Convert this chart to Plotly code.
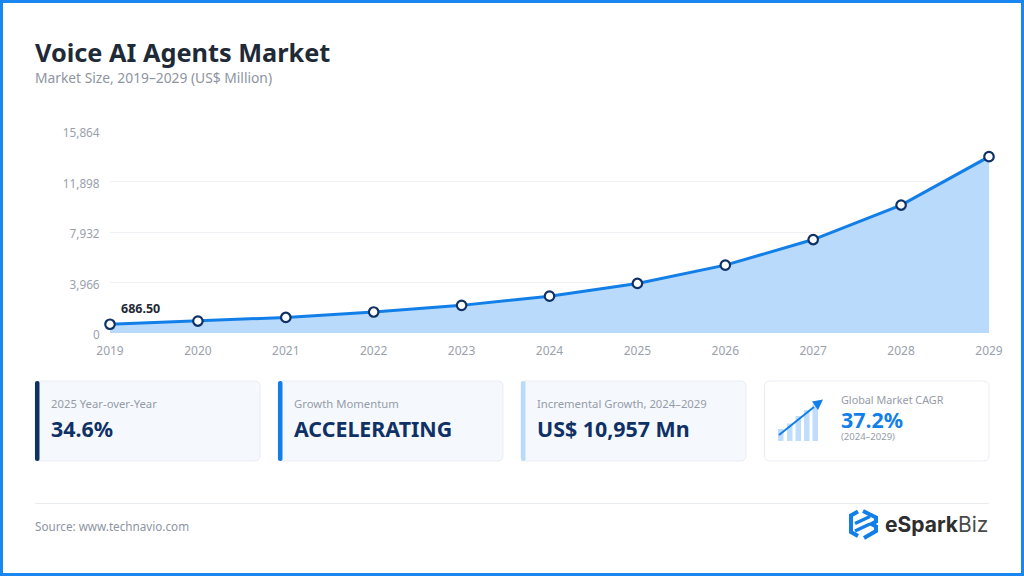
import plotly.graph_objects as go

years = [2019, 2020, 2021, 2022, 2023, 2024, 2025, 2026, 2027, 2028, 2029]
market_size = [686.5, 940, 1220, 1650, 2170, 2890, 3890, 5330, 7340, 10050, 13847]
y_ticks = [0, 3966, 7932, 11898, 15864]
y_tick_labels = ["0", "3,966", "7,932", "11,898", "15,864"]
cards = [
    ("2025 Year-over-Year", "34.6%"),
    ("Growth Momentum", "ACCELERATING"),
    ("Incremental Growth, 2024–2029", "US$ 10,957 Mn"),
]

W, H = 1024, 576
FONT = "Noto Sans"
BLUE = "#127fe8"
LIGHT = "#b9dafb"
NAVY = "#0f3165"


def px(x):
    return x / W


def py(y):
    return 1 - y / H


def P(x, y):
    return f"{px(x):.5f},{py(y):.5f}"


def path(points, close=True):
    s = "M" + " L".join(f"{px(x):.5f},{py(y):.5f}" for x, y in points)
    return s + (" Z" if close else "")


def rrect(x0, y0, x1, y1, r):
    c = r * 0.45
    return (
        f"M{P(x0 + r, y0)} L{P(x1 - r, y0)} C{P(x1 - c, y0)} {P(x1, y0 + c)} {P(x1, y0 + r)} "
        f"L{P(x1, y1 - r)} C{P(x1, y1 - c)} {P(x1 - c, y1)} {P(x1 - r, y1)} "
        f"L{P(x0 + r, y1)} C{P(x0 + c, y1)} {P(x0, y1 - c)} {P(x0, y1 - r)} "
        f"L{P(x0, y0 + r)} C{P(x0, y0 + c)} {P(x0 + c, y0)} {P(x0 + r, y0)} Z"
    )


shapes = []
annotations = []


def shp(d, fill=None, line=None, width=0):
    shapes.append(dict(type="path", xref="paper", yref="paper", path=d,
                       fillcolor=fill or "rgba(0,0,0,0)",
                       line=dict(color=line or "rgba(0,0,0,0)", width=width),
                       layer="below"))


def txt(x, y, s, size, color, family=FONT, anchor="left"):
    annotations.append(dict(x=px(x), y=py(y), xref="paper", yref="paper", text=s,
                            showarrow=False, xanchor=anchor, yanchor="middle",
                            xshift=0, font=dict(size=size, color=color, family=family),
                            borderpad=0, align="left"))


# outer frame
shp(path([(1.5, 1.5), (1022.5, 1.5), (1022.5, 574.5), (1.5, 574.5)]), line="#1a86ef", width=3)

# heading
txt(34, 52, "<b>Voice AI Agents Market</b>", 25.3, "#1f2a37")
txt(34, 78, "Market Size, 2019–2029 (US$ Million)", 13.8, "#8d95a1")

# KPI cards
for (x0, x1, accent), (label, value) in zip(
    [(35, 260, NAVY), (278, 503, BLUE), (521, 746, LIGHT)], cards
):
    shp(rrect(x0, 381, x1, 461, 5), fill="#f5f8fd", line="#e9edf3", width=1)
    shp(rrect(x0, 381, x0 + 4.5, 461, 2), fill=accent)
    txt(x0 + 15, 403.5, label, 11.3, "#959ca8")
    txt(x0 + 15, 428, f"<b>{value}</b>", 21.4, NAVY)

shp(rrect(764.5, 381, 989, 461, 5), fill="#ffffff", line="#e9edf3", width=1)
for bx, top in [(778, 429), (787, 423.5), (795.5, 416), (804, 410), (812.5, 404)]:
    shp(path([(bx, top), (bx + 5.5, top), (bx + 5.5, 441), (bx, 441)]), fill="#c0ddfb")
shp(path([(779, 435), (814, 407)], close=False), line=BLUE, width=2)
shp(path([(823, 399.5), (812, 401.5), (818, 410)]), fill=BLUE)
txt(840, 399, "Global Market CAGR", 10.8, "#959ca8")
txt(840, 419, "<b>37.2%</b>", 21.4, BLUE)
txt(840, 436, "(2024–2029)", 9.5, "#959ca8")

# footer
shp(path([(35, 503.5), (989, 503.5)], close=False), line="#e8ecef", width=1)
txt(34, 526, "Source: www.technavio.com", 11.7, "#8d95a1")

# logo
LOGO_W = 4
shp(path([(858, 511.5), (851, 515.5), (851, 532), (858, 536)], close=False), line=BLUE, width=LOGO_W)
shp(path([(863, 511), (876, 517.5), (876, 521.5), (871.5, 524), (876, 526.5), (876, 531), (864, 538)], close=False),
    line=BLUE, width=LOGO_W)
shp(path([(855, 523.5), (870, 516.5)], close=False), line=BLUE, width=3.4)
shp(path([(855, 531), (870, 524)], close=False), line=BLUE, width=3.4)
txt(884, 524, '<b>eSpark</b><span style="color:#4a4a4a">Biz</span>', 21, "#2e2e2e", family="Inter")

# value callout
annotations.append(dict(x=years[0], y=market_size[0], xref="x", yref="y",
                        text=f"<b>{market_size[0]:.2f}</b>", showarrow=False,
                        xanchor="left", yanchor="middle", xshift=9, yshift=16,
                        font=dict(size=12.5, color="#1f2a37", family=FONT)))

fig = go.Figure(go.Scatter(
    x=years, y=market_size, mode="lines+markers", fill="tozeroy", fillcolor=LIGHT,
    line=dict(color=BLUE, width=3),
    marker=dict(size=9.5, color="#ffffff", line=dict(color=NAVY, width=2.2)),
    cliponaxis=False, hoverinfo="skip",
))
fig.update_layout(
    width=W, height=H, autosize=False, showlegend=False,
    margin=dict(l=0, r=0, t=0, b=0, pad=0),
    paper_bgcolor="#ffffff", plot_bgcolor="#ffffff",
    font=dict(family=FONT, size=12, color="#9aa1ab"),
    xaxis=dict(domain=[px(110), px(989)], range=[years[0], years[-1]], tickvals=years,
               automargin=False,
               showgrid=False, zeroline=False, showline=False, ticks="outside", ticklen=7,
               tickcolor="rgba(0,0,0,0)", tickfont=dict(size=12, color="#9aa1ab")),
    yaxis=dict(domain=[py(333), py(131)], range=[0, y_ticks[-1]], tickvals=y_ticks,
               automargin=False, ticklabelshift=2,
               ticktext=y_tick_labels, showgrid=True, gridcolor="#f0f1f5", gridwidth=1,
               zeroline=False, showline=False, ticks="outside", ticklen=7,
               tickcolor="rgba(0,0,0,0)", tickfont=dict(size=11.8, color="#9aa1ab")),
    shapes=shapes, annotations=annotations,
)
fig.write_html("out.html", config=dict(displayModeBar=False),
               post_script="document.body.style.margin='0';document.documentElement.style.overflow='hidden';")
